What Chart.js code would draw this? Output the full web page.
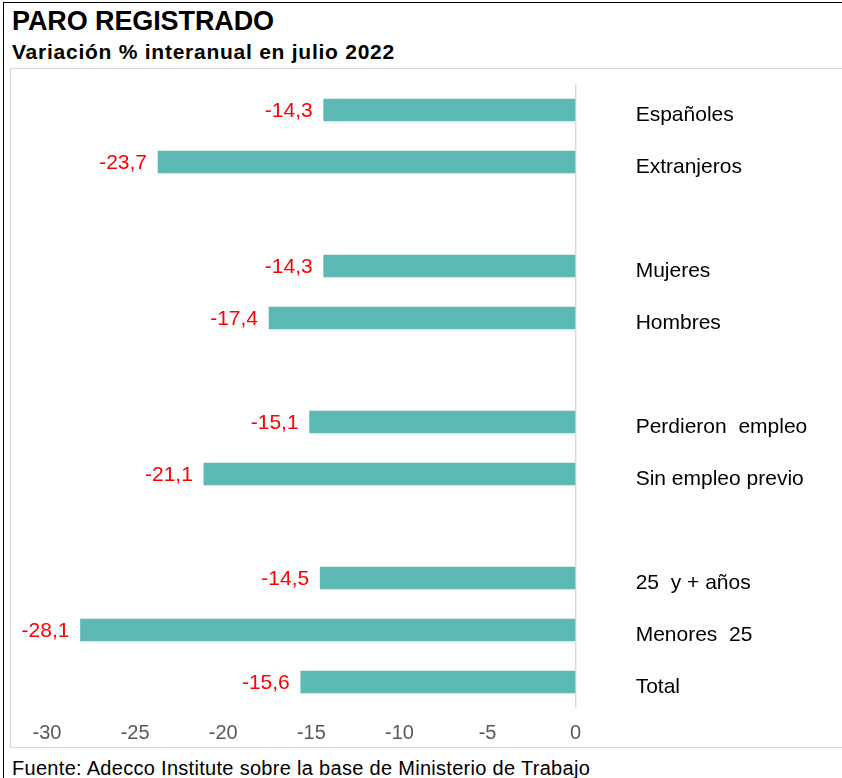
<!DOCTYPE html>
<html>
<head>
<meta charset="utf-8">
<script src="https://cdn.jsdelivr.net/npm/chart.js@4.4.0/dist/chart.umd.min.js"></script>
<style>
  html, body { margin: 0; padding: 0; background: #fff; }
  body { width: 842px; height: 778px; position: relative; overflow: hidden; font-family: "Liberation Sans", Arial, sans-serif; }
  #frameTop { position: absolute; left: 3px; top: 2px; width: 839px; height: 0; border-top: 1.5px solid #000; }
  #frameLeft { position: absolute; left: 3px; top: 2px; width: 0; height: 776px; border-left: 1.5px solid #000; }
  #plotBox { position: absolute; left: 10px; top: 68px; width: 840px; height: 680px; border: 1.5px solid #d9d9d9; box-sizing: border-box; }
  #title { position: absolute; left: 12px; top: 6px; font-size: 27px; font-weight: bold; color: #000; white-space: nowrap; letter-spacing: -0.1px; }
  #subtitle { position: absolute; left: 12px; top: 40px; font-size: 21px; font-weight: bold; color: #000; white-space: nowrap; letter-spacing: 0.75px; }
  #source { position: absolute; left: 12px; top: 757px; font-size: 20px; color: #000; white-space: nowrap; letter-spacing: 0.3px; }
  #wrap { position: absolute; left: 11px; top: 69px; width: 842px; height: 679px; }
</style>
</head>
<body>
<div id="frameTop"></div>
<div id="frameLeft"></div>
<div id="plotBox"></div>
<div id="title">PARO REGISTRADO</div>
<div id="subtitle">Variación % interanual en julio 2022</div>
<div id="source">Fuente: Adecco Institute sobre la base de Ministerio de Trabajo</div>
<div id="wrap"><canvas id="c"></canvas></div>
<script>
const categories = ['Españoles', 'Extranjeros', '', 'Mujeres', 'Hombres', '', 'Perdieron  empleo', 'Sin empleo previo', '', '25  y + años', 'Menores  25', 'Total'];
const values = [-14.3, -23.7, null, -14.3, -17.4, null, -15.1, -21.1, null, -14.5, -28.1, -15.6];
const xTicks = [-30, -25, -20, -15, -10, -5, 0];

const FONT = '"Liberation Sans", Arial, sans-serif';

const labelsPlugin = {
  id: 'labelsPlugin',
  afterDatasetsDraw(chart) {
    const ctx = chart.ctx;
    const meta = chart.getDatasetMeta(0);
    const xs = chart.scales.x;
    const zeroX = xs.getPixelForValue(0);
    ctx.save();
    meta.data.forEach((bar, i) => {
      const v = values[i];
      if (v === null || v === undefined) return;
      ctx.font = '21px ' + FONT;
      ctx.fillStyle = '#ff0000';
      ctx.textAlign = 'right';
      ctx.textBaseline = 'middle';
      ctx.fillText(v.toFixed(1).replace('.', ','), bar.x - 11, bar.y + 1);
      ctx.fillStyle = '#000000';
      ctx.textAlign = 'left';
      ctx.fillText(categories[i], zeroX + 60, bar.y + 5);
    });
    ctx.restore();
  }
};

new Chart(document.getElementById('c'), {
  type: 'bar',
  data: {
    labels: categories,
    datasets: [{
      data: values,
      backgroundColor: '#5cb9b3',
      borderWidth: 0,
      barThickness: 22
    }]
  },
  options: {
    indexAxis: 'y',
    responsive: true,
    maintainAspectRatio: false,
    animation: false,
    layout: { padding: { left: 36, right: 3, top: 15, bottom: -10 } },
    plugins: {
      legend: { display: false },
      tooltip: { enabled: false },
      title: { display: false }
    },
    scales: {
      x: {
        min: -30,
        max: 15,
        afterBuildTicks(scale) {
          scale.ticks = xTicks.concat([5, 10, 15]).map(v => ({ value: v }));
        },
        ticks: {
          font: { family: FONT, size: 20 },
          color: '#595959',
          padding: 13,
          maxRotation: 0,
          autoSkip: false,
          callback: (v) => (xTicks.includes(v) ? String(v) : '')
        },
        grid: {
          drawTicks: false,
          color: (c) => (c.tick && c.tick.value === 0 ? '#d9d9d9' : 'rgba(0,0,0,0)'),
          lineWidth: 1.5
        },
        border: { display: false }
      },
      y: {
        display: false,
        grid: { display: false }
      }
    }
  },
  plugins: [labelsPlugin]
});
</script>
</body>
</html>
